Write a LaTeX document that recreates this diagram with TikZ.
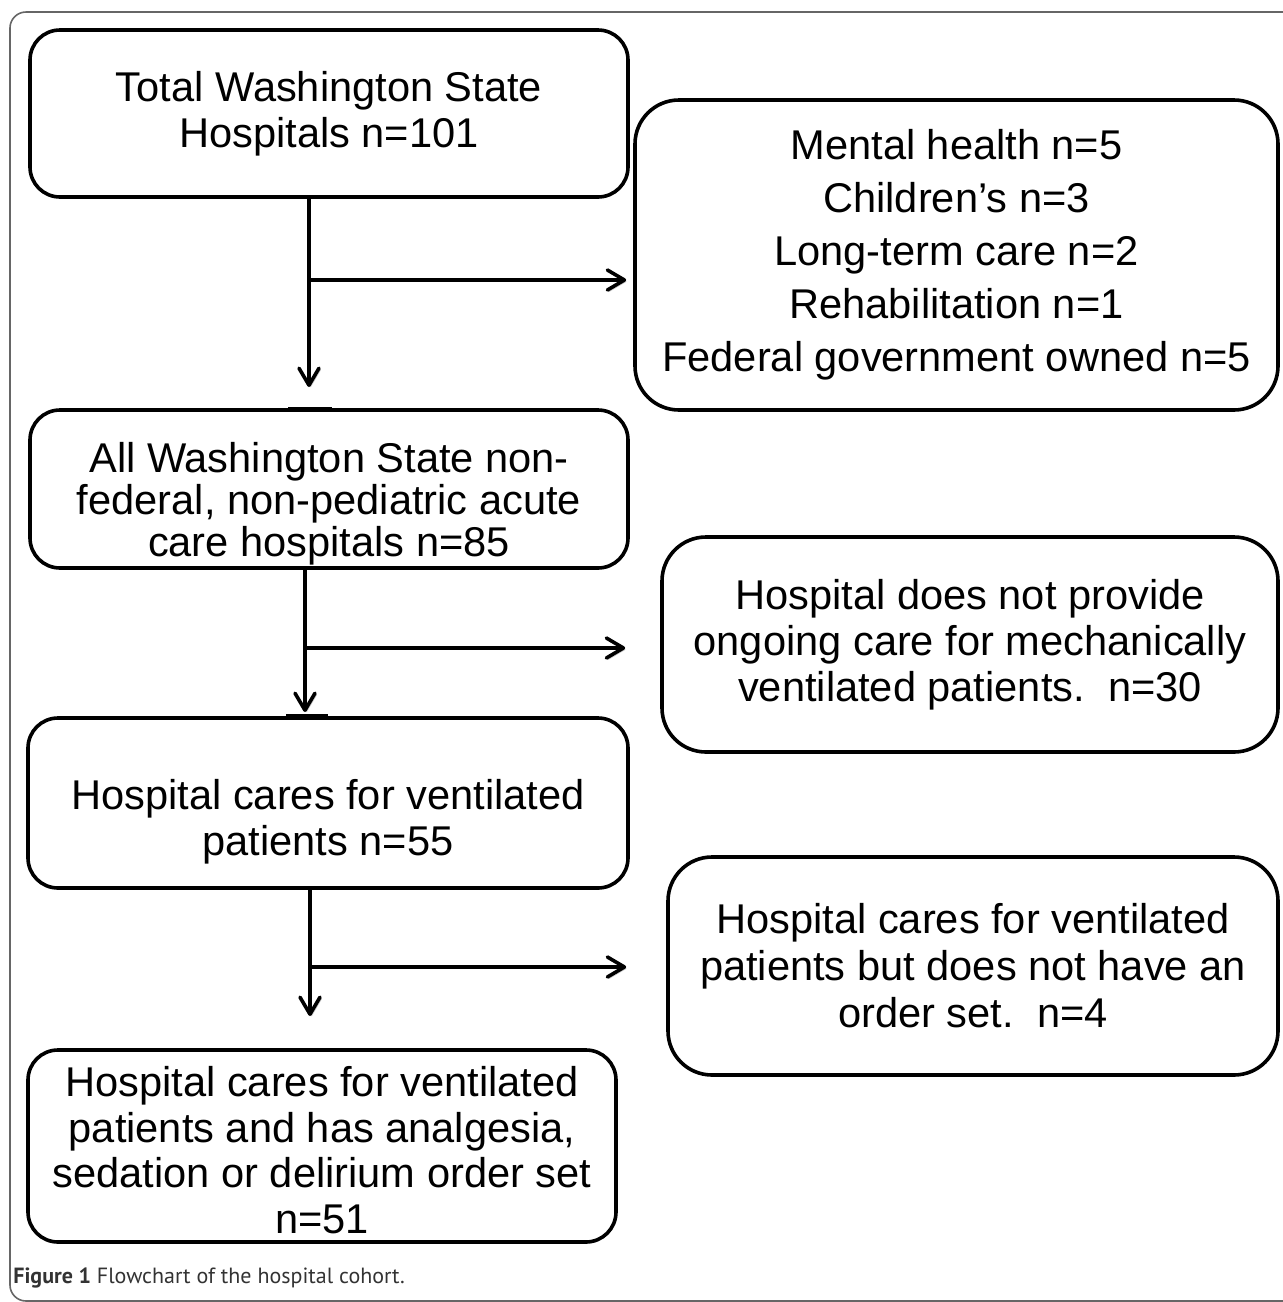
\documentclass[tikz,border=0pt]{standalone}
\usepackage{fontspec}
\setmainfont{Liberation Sans}
\newfontfamily\capfont{PT Sans}
\usetikzlibrary{arrows.meta}

% extra room above the first line of a box
\newcommand{\topgap}[1]{\rule{0pt}{#1}}

\tikzset{
 box/.style={draw,line width=1.8pt,rounded corners=15pt,align=center,inner sep=0pt,
  font=\fontsize{20.8}{22.8}\selectfont},
 arr/.style={line width=1.8pt,-{Straight Barb[length=8.5pt,width=10pt,round]},
  preaction={draw=black!20,transform canvas={shift={(0.8pt,-0.8pt)}}}}
}

\begin{document}
\begin{tikzpicture}[x=0.5pt,y=-0.5pt]
\useasboundingbox (0,0) rectangle (1282,1302);
% outer frame
\draw[black!60,line width=0.8pt,rounded corners=8pt] (10,12) rectangle (1300,1301);

% left column
\node[box,minimum width=299pt,minimum height=83.5pt] (total) at (329,113.5)
 {Total Washington State\\Hospitals n=101};
\node[box,minimum width=299pt,minimum height=79pt,font=\fontsize{20.8}{21}\selectfont] (nonfed) at (329,489)
 {\topgap{30pt}All Washington State non-\\federal, non-pediatric acute\\care hospitals n=85};
\node[box,minimum width=300pt,minimum height=85pt] (vent) at (328,803)
 {\topgap{34pt}Hospital cares for ventilated\\patients n=55};
\node[box,minimum width=294pt,minimum height=96pt] (orderset) at (322,1146)
 {\topgap{19pt}Hospital cares for ventilated\\patients and has analgesia,\\sedation or delirium order set\\n=51};

% right column
\node[box,rounded corners=22pt,minimum width=321.5pt,minimum height=155pt,
 font=\fontsize{20.8}{26.5}\selectfont] (excl1) at (956.5,255)
 {Mental health n=5\\Children’s n=3\\Long-term care n=2\\Rehabilitation n=1\\Federal government owned n=5};
\node[box,rounded corners=22pt,minimum width=308pt,minimum height=107.5pt,
 font=\fontsize{20.8}{23}\selectfont] (excl2) at (970,644.5)
 {Hospital does not provide\\ongoing care for mechanically\\ventilated patients.\ \ n=30};
\node[box,rounded corners=22pt,minimum width=305pt,minimum height=109pt,
 font=\fontsize{20.8}{23.5}\selectfont] (excl3) at (973,966)
 {Hospital cares for ventilated\\patients but does not have an\\order set.\ \ n=4};

% connectors
\coordinate (t1) at (309,387);
\coordinate (j1) at (309,280);
\draw[arr] (total.south -| t1) -- (t1);
\draw[arr,shorten >=3.5pt] (j1) -- (j1 -| excl1.west);

\coordinate (t2) at (305,712);
\coordinate (j2) at (305,648);
\draw[arr] (nonfed.south -| t2) -- (t2);
\draw[arr,shorten >=17.5pt] (j2) -- (j2 -| excl2.west);

\coordinate (t3) at (310,1016);
\coordinate (j3) at (310,967);
\draw[arr] (vent.south -| t3) -- (t3);
\draw[arr,shorten >=20pt] (j3) -- (j3 -| excl3.west);

% short marks on the box tops
\draw[line width=1.8pt] (288,408.5) -- (332,408.5);
\draw[line width=1.8pt] (286,715.5) -- (328,715.5);

% caption
\node[anchor=base west,inner sep=0pt,text=black!80,font=\capfont\fontsize{11}{12}\selectfont] (cap) at (13,1283)
 {\textbf{Figure 1} Flowchart of the hospital cohort.};
\end{tikzpicture}
\end{document}
